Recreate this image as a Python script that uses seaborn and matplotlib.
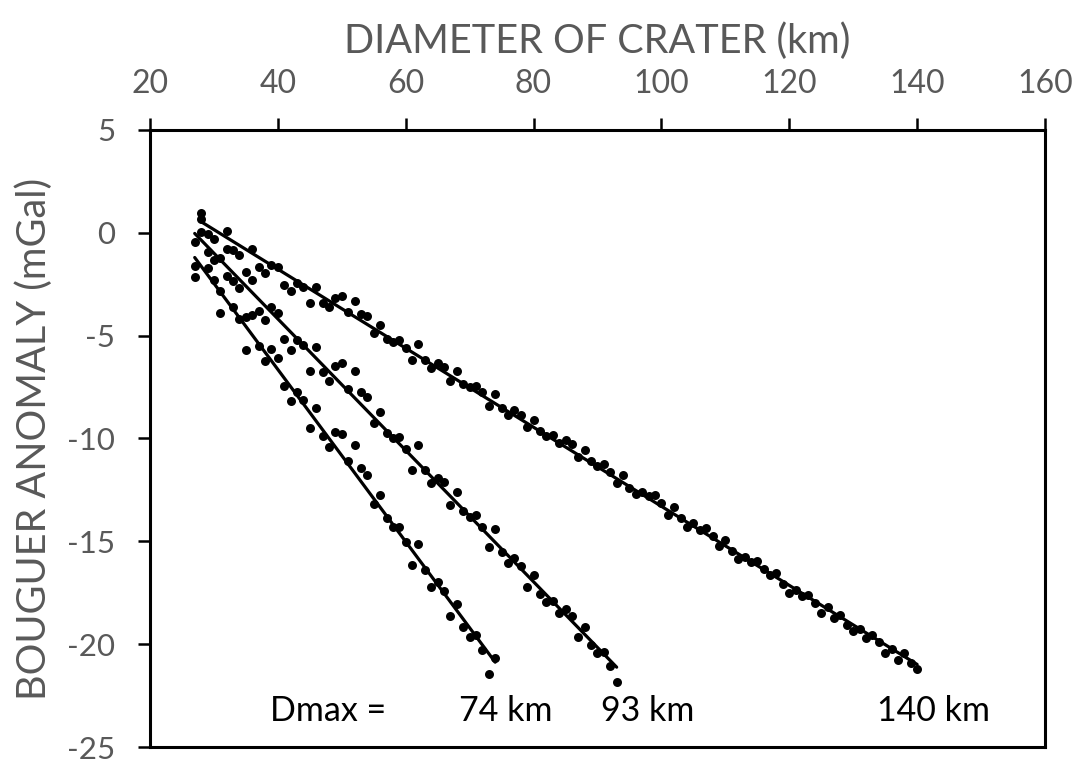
import matplotlib
matplotlib.use("Agg")
import matplotlib.pyplot as plt
import seaborn as sns
import pandas as pd

# Crater diameter (km) and Bouguer anomaly (mGal) for three maximum diameters
d74_diam = [27, 27, 29, 30, 31, 31, 33, 34, 35, 36, 35, 37, 38, 39, 40, 41, 42, 43, 44, 45,
            46, 47, 48, 49, 50, 51, 52, 53, 54, 55, 56, 57, 58, 59, 60, 61, 62, 63, 64, 65,
            66, 67, 68, 69, 70, 71, 72, 73, 74]
d74_anom = [-1.60, -2.13, -1.71, -2.28, -2.81, -3.89, -3.61, -4.18, -4.07, -3.99, -5.71, -5.50,
            -6.24, -5.66, -6.08, -7.44, -8.20, -7.73, -8.15, -9.47, -8.53, -9.90, -10.41, -9.69,
            -9.77, -11.07, -10.33, -11.42, -11.79, -13.20, -12.75, -13.86, -14.30, -14.30,
            -15.05, -16.13, -15.13, -16.39, -17.22, -16.98, -17.43, -18.64, -18.06, -19.15,
            -19.64, -19.56, -20.28, -21.44, -20.68]

d93_diam = [27, 28, 29, 30, 31, 32, 33, 34, 35, 36, 37, 38, 39, 40, 41, 42, 43, 44, 45, 46,
            47, 48, 49, 50, 51, 52, 53, 54, 55, 56, 57, 58, 59, 60, 61, 62, 63, 64, 65, 66,
            67, 68, 69, 70, 71, 72, 73, 74, 75, 76, 77, 78, 79, 80, 81, 82, 83, 84, 85, 86,
            87, 88, 89, 90, 91, 92, 93]
d93_anom = [-0.47, 0.04, -0.93, -1.33, -1.20, -2.09, -2.33, -2.70, -1.92, -2.28, -3.78, -4.26,
            -3.61, -3.89, -5.14, -5.71, -5.23, -5.43, -6.72, -5.55, -6.79, -7.19, -6.46, -6.32,
            -7.57, -6.72, -7.74, -7.99, -9.25, -8.69, -9.71, -9.96, -9.92, -10.49, -11.51,
            -10.33, -11.51, -12.15, -11.91, -12.10, -13.25, -12.60, -13.52, -13.84, -13.71,
            -14.29, -15.29, -14.40, -15.53, -16.06, -15.80, -16.18, -17.22, -16.66, -17.54,
            -17.95, -17.90, -18.48, -18.27, -18.62, -19.67, -19.15, -20.04, -20.44, -20.36,
            -21.04, -21.86]

d140_diam = [28, 28, 29, 30, 32, 32, 33, 34, 36, 37, 38, 39, 40, 41, 42, 43, 44, 45, 46, 47,
             48, 49, 50, 51, 52, 53, 54, 55, 56, 57, 58, 59, 60, 61, 62, 63, 64, 65, 66, 67,
             68, 69, 70, 71, 72, 73, 74, 75, 76, 77, 78, 79, 80, 81, 82, 83, 84, 85, 86, 87,
             88, 89, 90, 91, 92, 93, 94, 95, 96, 97, 98, 99, 100, 101, 102, 103, 104, 105, 106,
             107, 108, 109, 110, 111, 112, 113, 114, 115, 116, 117, 118, 119, 120, 121, 122,
             123, 124, 125, 126, 127, 128, 129, 130, 131, 132, 133, 134, 135, 136, 137, 138,
             139, 140]
d140_anom = [0.98, 0.69, -0.04, -0.28, 0.09, -0.80, -0.85, -1.07, -0.77, -1.68, -1.96, -1.55,
             -1.68, -2.52, -2.81, -2.46, -2.62, -3.41, -2.62, -3.41, -3.59, -3.16, -3.08, -3.84,
             -3.33, -3.95, -4.06, -4.86, -4.47, -5.14, -5.31, -5.22, -5.59, -6.19, -5.42, -6.17,
             -6.56, -6.35, -6.50, -7.21, -6.74, -7.37, -7.52, -7.43, -7.72, -8.40, -7.83, -8.51,
             -8.85, -8.61, -8.87, -9.44, -9.09, -9.65, -9.90, -9.85, -10.22, -10.06, -10.29,
             -10.89, -10.57, -11.10, -11.33, -11.26, -11.62, -12.18, -11.78, -12.39, -12.71,
             -12.58, -12.79, -12.76, -13.15, -13.71, -13.33, -13.87, -14.29, -14.13, -14.44,
             -14.37, -14.73, -15.21, -14.92, -15.48, -15.85, -15.74, -16.01, -15.98, -16.34,
             -16.66, -16.53, -17.09, -17.51, -17.35, -17.67, -17.62, -17.99, -18.48, -18.19,
             -18.75, -18.59, -19.07, -19.35, -19.28, -19.69, -19.56, -19.91, -20.44, -20.25,
             -20.76, -20.41, -20.93, -21.22]

dmax_labels = ["74 km", "93 km", "140 km"]
x_ticks = [20, 40, 60, 80, 100, 120, 140, 160]
y_ticks = [5, 0, -5, -10, -15, -20, -25]

sns.set_style("white")
plt.rcParams["font.family"] = ["Lato", "DejaVu Sans"]
plt.rcParams["axes.unicode_minus"] = False

fig = plt.figure(figsize=(10.82, 7.66), dpi=100)
ax = fig.add_axes([0.1386, 0.0248, 0.8272, 0.8055])

series = [(d74_diam, d74_anom), (d93_diam, d93_anom), (d140_diam, d140_anom)]
for diam, anom in series:
    df = pd.DataFrame({"diameter": diam, "anomaly": anom})
    sns.regplot(data=df, x="diameter", y="anomaly", ax=ax, ci=None, color="black",
                scatter_kws={"s": 42, "linewidths": 0, "alpha": 1},
                line_kws={"lw": 2.3, "color": "black"})

ax.set_xlim(20, 160)
ax.set_ylim(-25, 5)
ax.set_xticks(x_ticks)
ax.set_yticks(y_ticks)
ax.set_xticklabels([str(t) for t in x_ticks])
ax.set_yticklabels([str(t) for t in y_ticks])

ax.xaxis.tick_top()
ax.xaxis.set_label_position("top")
ax.tick_params(axis="x", which="both", direction="out", length=9, width=1.8,
               colors="black", labelcolor="#595959", labelsize=23, pad=13, top=True, bottom=False)
ax.tick_params(axis="y", which="both", direction="out", length=9, width=1.8,
               colors="black", labelcolor="#595959", labelsize=22.5, pad=16, left=True, right=False)

for side in ["top", "bottom", "left", "right"]:
    ax.spines[side].set_visible(True)
    ax.spines[side].set_color("black")
    ax.spines[side].set_linewidth(2.2)

ax.set_xlabel("DIAMETER OF CRATER (km)", fontsize=28.5, color="#595959", labelpad=12)
ax.set_ylabel("BOUGUER ANOMALY (mGal)", fontsize=28.5, color="#595959", labelpad=10)

ax.text(38.75, -23.74, "Dmax =", fontsize=24.5, color="black", ha="left", va="baseline")
for xpos, lab in zip([68.4, 90.6, 133.75], dmax_labels):
    ax.text(xpos, -23.74, lab, fontsize=24.5, color="black", ha="left", va="baseline")

fig.savefig("out.png", dpi=100, facecolor="white")
